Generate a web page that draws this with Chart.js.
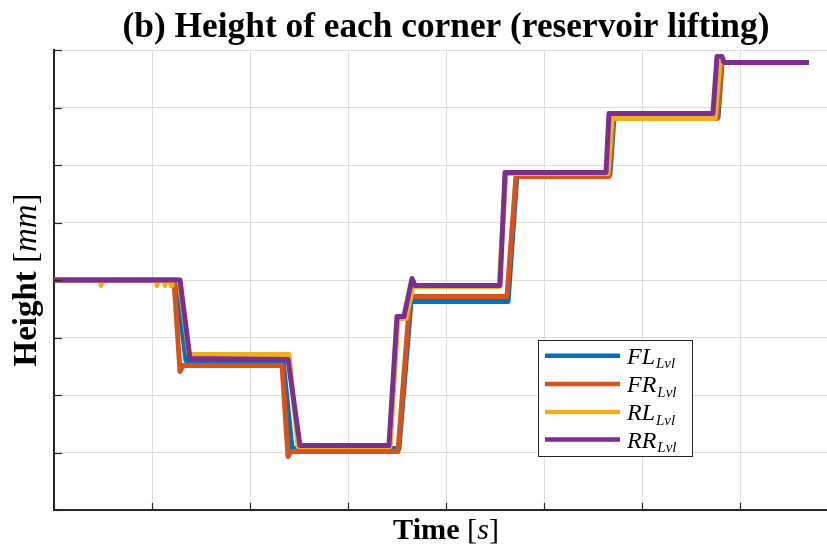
<!DOCTYPE html>
<html>
<head>
<meta charset="utf-8">
<script src="https://cdn.jsdelivr.net/npm/chart.js@4.4.1/dist/chart.umd.min.js"></script>
<style>
html,body{margin:0;padding:0;background:#fff;overflow:hidden;width:827px;height:548px;}
canvas{display:block;}
</style>
</head>
<body>
<canvas id="c" width="860" height="548"></canvas>
<script>
// ---- Data (time in axis units, height in axis units) ----
const seriesLabels = ['FL_Lvl', 'FR_Lvl', 'RL_Lvl', 'RR_Lvl'];
const seriesColors = ['#0072BD', '#D95319', '#EDB120', '#7E2F8E'];

const flTime   = [0, 1.245, 1.347, 2.337, 2.429, 3.520, 3.643, 4.633, 4.724, 5.673, 5.714, 6.776, 6.816, 7.704];
const flHeight = [4.0, 4.0, 2.600, 2.600, 1.070, 1.070, 3.626, 3.626, 5.835, 5.835, 6.826, 6.826, 7.783, 7.783];

const frTime   = [0, 1.224, 1.286, 1.316, 2.327, 2.388, 2.418, 3.510, 3.633, 4.622, 4.714, 5.663, 5.704, 6.765, 6.816, 7.704];
const frHeight = [4.0, 4.0, 2.409, 2.513, 2.513, 0.930, 1.017, 1.017, 3.713, 3.713, 5.800, 5.800, 6.809, 6.809, 7.783, 7.783];

const rlTime   = [0, 0.470, 0.480, 0.490, 1.041, 1.051, 1.061, 1.123, 1.133, 1.143, 1.184, 1.194, 1.204, 1.276, 1.378, 2.398, 2.490, 3.429, 3.510, 3.592, 3.663, 4.541, 4.612, 5.653, 5.694, 6.745, 6.796, 7.704];
const rlHeight = [4.0, 4.0, 3.904, 4.0, 4.0, 3.904, 4.0, 4.0, 3.904, 4.0, 4.0, 3.904, 4.0, 4.0, 2.704, 2.704, 1.104, 1.104, 3.330, 3.330, 3.887, 3.887, 5.852, 5.852, 6.809, 6.809, 7.783, 7.783];

const rrTime   = [0, 1.286, 1.388, 2.388, 2.510, 3.418, 3.500, 3.571, 3.653, 3.684, 4.551, 4.602, 5.633, 5.663, 6.724, 6.765, 6.816, 6.837, 7.704];
const rrHeight = [4.0, 4.0, 2.635, 2.617, 1.122, 1.122, 3.365, 3.365, 4.026, 3.904, 3.904, 5.870, 5.870, 6.896, 6.896, 7.887, 7.887, 7.783, 7.783];

const xTicks = [0, 1, 2, 3, 4, 5, 6, 7, 8];
const yTicks = [0, 1, 2, 3, 4, 5, 6, 7, 8];

const titleText = '(b) Height of each corner (reservoir lifting)';
const xLabelParts = [['Time ', 'bold'], ['[', 'normal'], ['s', 'italic'], [']', 'normal']];
const yLabelParts = [['Height ', 'bold'], ['[', 'normal'], ['mm', 'italic'], [']', 'normal']];

const allTimes = [flTime, frTime, rlTime, rrTime];
const allHeights = [flHeight, frHeight, rlHeight, rrHeight];
const drawOrder = [3, 2, 1, 0]; // higher = drawn first (below)

function toPoints(t, h) { return t.map((v, i) => ({x: v, y: h[i]})); }

const datasets = seriesLabels.map((lab, i) => ({
  label: lab,
  data: toPoints(allTimes[i], allHeights[i]),
  borderColor: seriesColors[i],
  backgroundColor: seriesColors[i],
  borderWidth: 5,
  pointRadius: 0,
  showLine: true,
  fill: false,
  tension: 0,
  borderJoinStyle: 'round',
  borderCapStyle: 'butt',
  order: drawOrder[i]
}));

const SERIF = '"Liberation Serif", "DejaVu Serif", serif';

function fontStr(style, size) {
  if (style === 'bold') return 'bold ' + size + 'px ' + SERIF;
  if (style === 'italic') return 'italic ' + size + 'px ' + SERIF;
  return size + 'px ' + SERIF;
}
function partsWidth(ctx, parts, size) {
  let w = 0;
  parts.forEach(p => { ctx.font = fontStr(p[1], size); w += ctx.measureText(p[0]).width; });
  return w;
}
function drawParts(ctx, parts, size, cx, cy) {
  const w = partsWidth(ctx, parts, size);
  let x = cx - w / 2;
  ctx.textBaseline = 'middle';
  ctx.textAlign = 'left';
  parts.forEach(p => {
    ctx.font = fontStr(p[1], size);
    ctx.fillText(p[0], x, cy);
    x += ctx.measureText(p[0]).width;
  });
}

const decorPlugin = {
  id: 'decor',
  afterDraw(chart) {
    const ctx = chart.ctx;
    const ca = chart.chartArea;
    const xs = chart.scales.x, ys = chart.scales.y;
    ctx.save();
    // inward tick marks
    ctx.strokeStyle = '#262626';
    ctx.lineWidth = 1.2;
    yTicks.forEach(v => {
      const py = Math.round(ys.getPixelForValue(v)) + 0.5;
      ctx.beginPath(); ctx.moveTo(ca.left, py); ctx.lineTo(ca.left + 8, py); ctx.stroke();
    });
    xTicks.forEach(v => {
      const px = Math.round(xs.getPixelForValue(v)) + 0.5;
      ctx.beginPath(); ctx.moveTo(px, ca.bottom); ctx.lineTo(px, ca.bottom - 7); ctx.stroke();
    });
    // title
    ctx.fillStyle = '#000';
    const cxPlot = (ca.left + ca.right) / 2;
    let ts = 30;
    ctx.font = fontStr('bold', ts);
    ts = ts * 647 / ctx.measureText(titleText).width;
    drawParts(ctx, [[titleText, 'bold']], ts, cxPlot, 28);
    // x label
    let xs0 = 24;
    xs0 = xs0 * 106 / partsWidth(ctx, xLabelParts, xs0);
    drawParts(ctx, xLabelParts, xs0, cxPlot, 531);
    // y label
    let ys0 = 24;
    ys0 = ys0 * 173 / partsWidth(ctx, yLabelParts, ys0);
    ctx.save();
    ctx.translate(27, (ca.top + ca.bottom) / 2);
    ctx.rotate(-Math.PI / 2);
    drawParts(ctx, yLabelParts, ys0, 0, 0);
    ctx.restore();
    // legend
    const bx = 538.5, by = 340.5, bw = 154, bh = 116;
    ctx.fillStyle = '#fff';
    ctx.fillRect(bx, by, bw, bh);
    ctx.strokeStyle = '#262626';
    ctx.lineWidth = 1;
    ctx.strokeRect(bx, by, bw, bh);
    const rowY = [355.7, 384, 412, 439.5];
    chart.data.datasets.forEach((ds, i) => {
      const y = rowY[i];
      ctx.strokeStyle = ds.borderColor;
      ctx.lineWidth = 4.5;
      ctx.beginPath(); ctx.moveTo(545, y); ctx.lineTo(620, y); ctx.stroke();
      const [main, sub] = ds.label.split('_');
      ctx.fillStyle = '#000';
      ctx.textAlign = 'left';
      ctx.textBaseline = 'alphabetic';
      ctx.font = fontStr('italic', 24);
      ctx.fillText(main, 627, y + 8);
      const mw = ctx.measureText(main).width;
      ctx.font = fontStr('italic', 15);
      ctx.fillText(sub, 627 + mw + 1, y + 12.5);
    });
    ctx.restore();
  }
};

new Chart(document.getElementById('c'), {
  type: 'scatter',
  data: { datasets },
  options: {
    responsive: false,
    animation: false,
    devicePixelRatio: 1,
    layout: { padding: { left: 54, top: 50, right: 22, bottom: 38 } },
    plugins: { legend: { display: false }, title: { display: false }, tooltip: { enabled: false } },
    scales: {
      x: {
        type: 'linear', min: 0, max: 8,
        ticks: { display: false, stepSize: 1 },
        grid: { color: '#dcdcdc', lineWidth: 1, drawTicks: false },
        border: { display: true, color: '#262626', width: 2 }
      },
      y: {
        type: 'linear', min: 0, max: 8,
        ticks: { display: false, stepSize: 1 },
        grid: { color: '#dcdcdc', lineWidth: 1, drawTicks: false },
        border: { display: true, color: '#262626', width: 2 }
      }
    }
  },
  plugins: [decorPlugin]
});
</script>
</body>
</html>
